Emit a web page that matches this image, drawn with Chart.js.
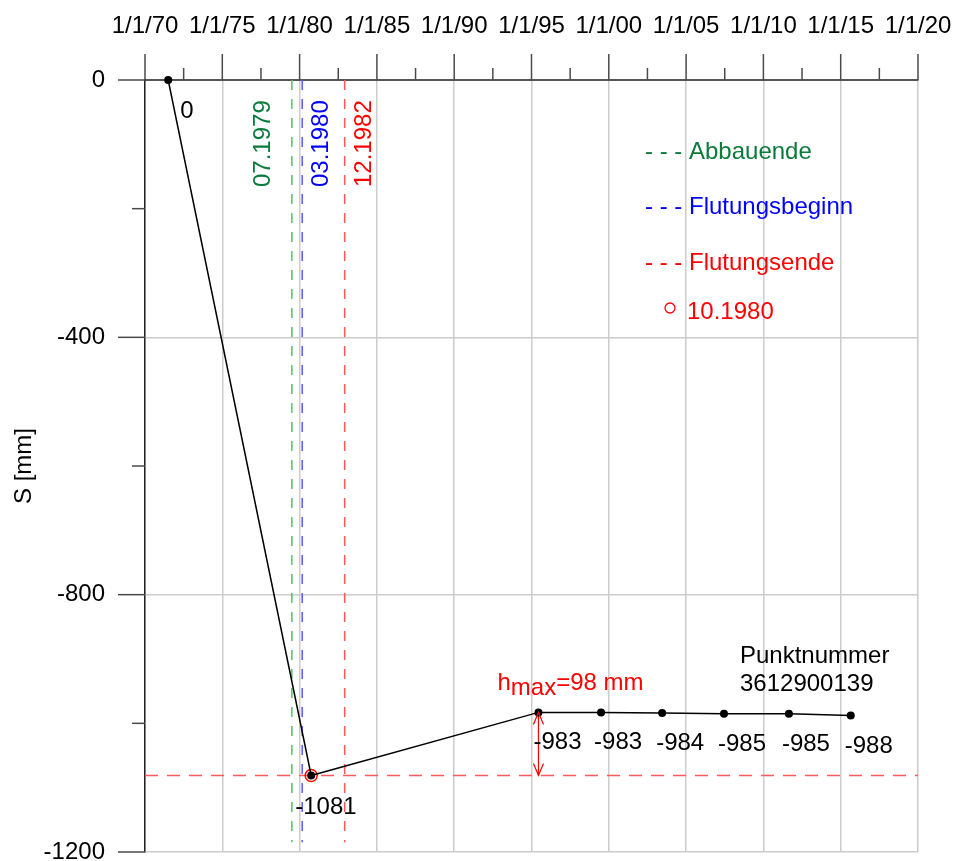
<!DOCTYPE html>
<html>
<head>
<meta charset="utf-8">
<script src="https://cdn.jsdelivr.net/npm/chart.js@4.4.1/dist/chart.umd.min.js"></script>
<style>
  html, body { margin: 0; padding: 0; background: #ffffff; }
  #wrap { width: 955px; height: 861px; }
</style>
</head>
<body>
<div id="wrap"><canvas id="c" width="955" height="861"></canvas></div>
<script>
// Settlement history of survey point 3612900139
const FONT = "'Liberation Sans', Arial, sans-serif";

const dates      = [1971.5, 1980.75, 1995.45, 1999.5, 2003.45, 2007.45, 2011.65, 2015.65];
const settlement = [0, -1081, -983, -983, -984, -985, -985, -988];

const tickLabels = ['1/1/70', '1/1/75', '1/1/80', '1/1/85', '1/1/90', '1/1/95',
                    '1/1/00', '1/1/05', '1/1/10', '1/1/15', '1/1/20'];
const yTickValues = [0, -400, -800, -1200];

const eventNames = ['Abbauende', 'Flutungsbeginn', 'Flutungsende'];
const eventDates = ['07.1979', '03.1980', '12.1982'];
const minimumDate = '10.1980';
const pointNumber = '3612900139';

// styles
const eventLineColors = ['#5cb86e', '#5a5aff', '#ff5a5a'];
const eventTextColors = ['#0b7a3b', '#0000ff', '#ff0000'];
const eventTextOffset = [-28, 19, 20];
const labelOffsets = [[12, 38], [-16, 39], [-5, 37], [-7, 37], [-6, 37], [-6, 37], [-7, 37], [-6, 37]];

function monthYear(s) {
  const [m, y] = s.split('.').map(Number);
  return y + (m - 1) / 12;
}

const minIndex = settlement.indexOf(Math.min(...settlement));
const recovIndex = minIndex + 1;
const hmax = settlement[recovIndex] - settlement[minIndex];

const eventDatasets = eventDates.map((d, i) => ({
  label: eventNames[i],
  data: [{ x: monthYear(d), y: 0 }, { x: monthYear(d), y: -1185 }],
  borderColor: eventLineColors[i],
  borderWidth: 1.5,
  borderDash: [10, 9],
  pointRadius: 0,
  showLine: true,
  order: 5
}));

const datasets = [
  {
    label: pointNumber,
    data: dates.map((d, i) => ({ x: d, y: settlement[i] })),
    borderColor: '#000000',
    borderWidth: 1.5,
    pointRadius: 4,
    pointBackgroundColor: '#000000',
    pointBorderWidth: 0,
    showLine: true,
    tension: 0,
    clip: false,
    order: 0
  },
  {
    label: minimumDate,
    data: [{ x: monthYear(minimumDate), y: settlement[minIndex] }],
    pointRadius: 6,
    pointBorderColor: '#ff0000',
    pointBackgroundColor: 'rgba(0,0,0,0)',
    pointBorderWidth: 1.5,
    showLine: false,
    clip: false,
    order: 1
  },
  {
    label: 'Tiefstand',
    data: [{ x: 1970, y: settlement[minIndex] }, { x: 2020, y: settlement[minIndex] }],
    borderColor: '#ff5a5a',
    borderWidth: 1.5,
    borderDash: [13, 9],
    pointRadius: 0,
    showLine: true,
    order: 4
  },
  {
    label: 'hmax',
    data: [{ x: dates[recovIndex], y: settlement[recovIndex] }, { x: dates[recovIndex], y: settlement[minIndex] }],
    borderColor: '#ff0000',
    borderWidth: 1.2,
    pointRadius: 0,
    showLine: true,
    order: 3
  },
  ...eventDatasets
];

const decor = {
  id: 'decor',
  afterDraw(chart) {
    const { ctx, chartArea: a, scales: { x, y } } = chart;
    ctx.save();

    // axis tick marks (major + minor)
    ctx.strokeStyle = '#4a4a4a';
    ctx.lineWidth = 1.5;
    const seg = (x1, y1, x2, y2) => { ctx.beginPath(); ctx.moveTo(x1, y1); ctx.lineTo(x2, y2); ctx.stroke(); };
    x.ticks.forEach((t, i) => {
      const px = x.getPixelForValue(t.value);
      seg(px, a.top, px, a.top - 26);
      if (i < x.ticks.length - 1) {
        const mx = x.getPixelForValue((t.value + x.ticks[i + 1].value) / 2);
        seg(mx, a.top, mx, a.top - 12);
      }
    });
    y.ticks.forEach((t, i) => {
      const py = y.getPixelForValue(t.value);
      seg(a.left, py, a.left - 27, py);
      if (i < y.ticks.length - 1) {
        const my = y.getPixelForValue((t.value + y.ticks[i + 1].value) / 2);
        seg(a.left, my, a.left - 13, my);
      }
    });

    ctx.font = '24px ' + FONT;

    // value labels
    ctx.fillStyle = '#000000';
    ctx.textAlign = 'left';
    ctx.textBaseline = 'alphabetic';
    dates.forEach((d, i) => {
      const px = x.getPixelForValue(i === minIndex ? monthYear(minimumDate) : d);
      const py = y.getPixelForValue(settlement[i]);
      ctx.fillText(String(settlement[i]), px + labelOffsets[i][0], py + labelOffsets[i][1]);
    });

    // event dates, rotated
    eventDates.forEach((d, i) => {
      const px = x.getPixelForValue(monthYear(d));
      ctx.save();
      ctx.translate(px + eventTextOffset[i], a.top + 107);
      ctx.rotate(-Math.PI / 2);
      ctx.fillStyle = eventTextColors[i];
      ctx.textAlign = 'left';
      ctx.textBaseline = 'middle';
      ctx.fillText(d, 0, 0);
      ctx.restore();
    });

    // legend
    ctx.textAlign = 'left';
    ctx.textBaseline = 'middle';
    const legendRows = [a.top + 72, a.top + 127, a.top + 183];
    eventNames.forEach((n, i) => {
      ctx.fillStyle = eventTextColors[i];
      ctx.fillText('- - - ' + n, a.left + 500, legendRows[i]);
    });
    ctx.strokeStyle = '#ff0000';
    ctx.lineWidth = 1.3;
    ctx.beginPath();
    ctx.arc(a.left + 525, a.top + 228, 5, 0, Math.PI * 2);
    ctx.stroke();
    ctx.fillStyle = '#ff0000';
    ctx.fillText(minimumDate, a.left + 542, a.top + 232);

    // hmax arrow heads
    const ax = x.getPixelForValue(dates[recovIndex]);
    const yTop = y.getPixelForValue(settlement[recovIndex]);
    const yBot = y.getPixelForValue(settlement[minIndex]);
    ctx.strokeStyle = '#ff0000';
    ctx.lineWidth = 1.2;
    ctx.beginPath();
    ctx.moveTo(ax - 5, yTop + 12); ctx.lineTo(ax, yTop); ctx.lineTo(ax + 5, yTop + 12);
    ctx.moveTo(ax - 5, yBot - 12); ctx.lineTo(ax, yBot); ctx.lineTo(ax + 5, yBot - 12);
    ctx.stroke();

    // hmax label with lowered subscript
    ctx.fillStyle = '#ff0000';
    ctx.textBaseline = 'alphabetic';
    let tx = ax - 41;
    const by = yTop - 22;
    ctx.fillText('h', tx, by); tx += ctx.measureText('h').width;
    ctx.fillText('max', tx, by + 5); tx += ctx.measureText('max').width;
    ctx.fillText('=' + hmax + ' mm', tx, by);

    // point number
    ctx.fillStyle = '#000000';
    ctx.fillText('Punktnummer', a.left + 595, a.top + 583);
    ctx.fillText(pointNumber, a.left + 595, a.top + 611);

    ctx.restore();
  }
};

new Chart(document.getElementById('c'), {
  type: 'scatter',
  data: { datasets },
  plugins: [decor],
  options: {
    responsive: false,
    devicePixelRatio: 1,
    animation: false,
    events: [],
    layout: { padding: { left: 0, top: 0, right: 37, bottom: 9 } },
    plugins: { legend: { display: false }, tooltip: { enabled: false } },
    scales: {
      x: {
        type: 'linear',
        position: 'top',
        min: 1970,
        max: 2020,
        afterFit(s) { s.height = 80; s.paddingLeft = 0; s.paddingRight = 0; },
        ticks: {
          stepSize: 5,
          autoSkip: false,
          maxRotation: 0,
          padding: 39,
          color: '#000000',
          font: { family: FONT, size: 24, lineHeight: 1.2 },
          callback: (v, i) => tickLabels[i]
        },
        grid: { color: '#cccccc', lineWidth: 1.5, drawTicks: false },
        border: { display: true, color: '#555555', width: 2 }
      },
      y: {
        type: 'linear',
        position: 'left',
        min: -1200,
        max: 0,
        afterFit(s) { s.width = 145; s.paddingTop = 0; s.paddingBottom = 0; },
        afterBuildTicks(s) { s.ticks = yTickValues.map(v => ({ value: v })); },
        ticks: {
          padding: 40,
          color: '#000000',
          font: { family: FONT, size: 24, lineHeight: 1.2 },
          callback: v => String(v)
        },
        grid: { color: '#cccccc', lineWidth: 1.5, drawTicks: false },
        border: { display: true, color: '#222222', width: 1.5 },
        title: {
          display: true,
          text: 'S [mm]',
          color: '#000000',
          font: { family: FONT, size: 24, lineHeight: 1.2 },
          padding: { top: 10, bottom: 0 }
        }
      }
    }
  }
});
</script>
</body>
</html>
